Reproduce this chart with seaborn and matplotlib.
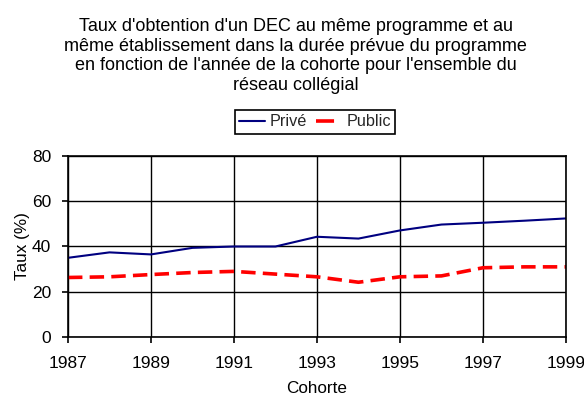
import pandas as pd
import matplotlib
matplotlib.use('Agg')
import matplotlib.pyplot as plt
from matplotlib.lines import Line2D
import seaborn as sns

# --- Données ---
annees = [1987, 1988, 1989, 1990, 1991, 1992, 1993, 1994, 1995, 1996, 1997, 1998, 1999]
prive = [35.0, 37.4, 36.5, 39.4, 40.0, 40.0, 44.3, 43.5, 47.1, 49.7, 50.5, 51.4, 52.4]
public = [26.3, 26.6, 27.6, 28.5, 29.0, 27.8, 26.6, 24.2, 26.6, 27.0, 30.6, 31.0, 31.0]
reseaux = ['Privé', 'Public']
couleurs = {'Privé': '#000080', 'Public': '#FF0000'}
x_ticks = [1987, 1989, 1991, 1993, 1995, 1997, 1999]
y_ticks = [0, 20, 40, 60, 80]

titre = ("Taux d'obtention d'un DEC au même programme et au\n"
         "même établissement dans la durée prévue du programme\n"
         "en fonction de l'année de la cohorte pour l'ensemble du\n"
         "réseau collégial")

df = pd.DataFrame({
    'Cohorte': annees * 2,
    'Taux': prive + public,
    'Réseau': [reseaux[0]] * len(annees) + [reseaux[1]] * len(annees),
})

sns.set_theme(style="white")
plt.rcParams['font.family'] = ['Liberation Sans', 'DejaVu Sans']

fig = plt.figure(figsize=(5.84, 4.01), dpi=100)
ax = fig.add_axes([0.1164, 0.1596, 0.8527, 0.4514])

sns.lineplot(data=df, x='Cohorte', y='Taux', hue='Réseau', style='Réseau',
             palette=couleurs, dashes={'Privé': '', 'Public': (4, 2)},
             ax=ax, legend=False)
for ligne, lw in zip(ax.get_lines(), [1.5, 2.6]):
    ligne.set_linewidth(lw)

ax.set_xlim(1987, 1999)
ax.set_ylim(0, 80)
ax.set_xticks(x_ticks)
ax.set_yticks(y_ticks)
ax.grid(True, color='black', linewidth=1.0)
ax.set_axisbelow(True)
for s in ax.spines.values():
    s.set_color('black')
    s.set_linewidth(1.2)
ax.tick_params(axis='both', direction='out', length=4, width=1.2, color='black',
               labelsize=12.5, labelcolor='black', left=True, bottom=True)
ax.tick_params(axis='x', pad=10)
ax.tick_params(axis='y', pad=8)
ax.set_xlabel('Cohorte', fontsize=12.3, color='black')
ax.set_ylabel('Taux (%)', fontsize=12.3, color='black')
ax.xaxis.set_label_coords(0.5, -0.245)
ax.yaxis.set_label_coords(-0.076, 0.5)

fig.text(0.506, 0.8604, titre, ha='center', va='center', fontsize=13,
         linespacing=1.2, color='black')

# légende
poignees = [Line2D([], [], color=couleurs['Privé'], lw=1.5),
            Line2D([], [], color=couleurs['Public'], lw=2.6, dashes=(5, 5))]
leg = fig.legend(poignees, reseaux, loc='center', bbox_to_anchor=(0.5394, 0.6958),
                 ncol=2, frameon=True, fontsize=11.7, handlelength=1.6,
                 handletextpad=0.25, columnspacing=0.6, borderpad=0.25,
                 borderaxespad=0, fancybox=False, framealpha=1)
leg.get_frame().set_edgecolor('black')
leg.get_frame().set_linewidth(1.2)

fig.savefig('out.png', dpi=100)
